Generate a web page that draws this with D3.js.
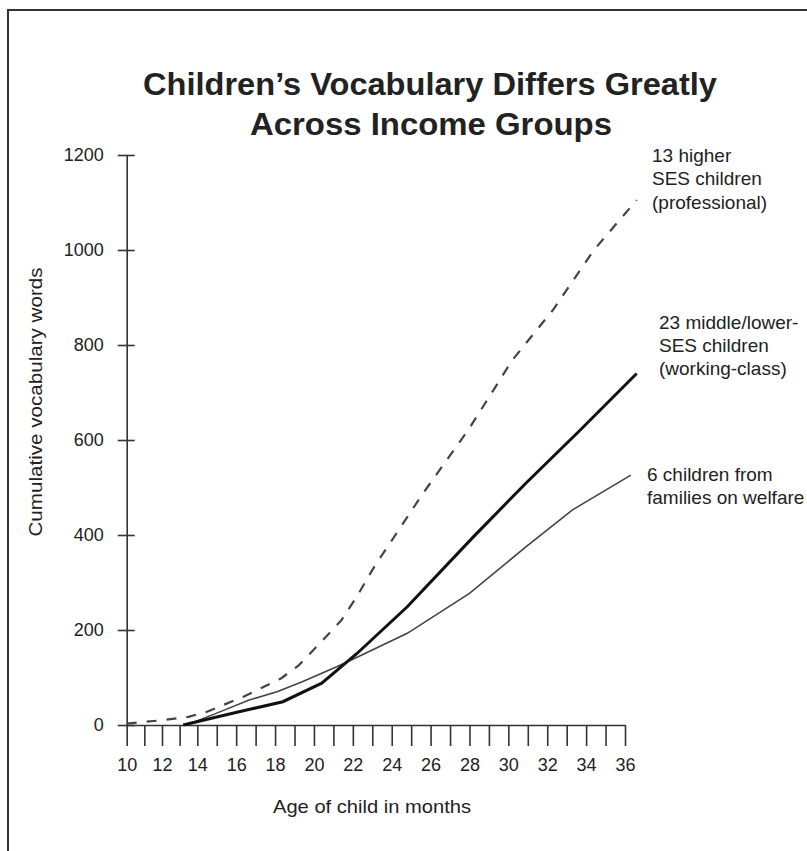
<!DOCTYPE html>
<html>
<head>
<meta charset="utf-8">
<script src="https://cdn.jsdelivr.net/npm/d3@7"></script>
<style>
  html, body { margin: 0; padding: 0; background: #fff; }
  svg { display: block; }
  text { font-family: "Liberation Sans", Arial, Helvetica, sans-serif; fill: #222; }
</style>
</head>
<body>
<svg id="chart" width="807" height="851"></svg>
<script>
// ---- data ----
const titleLines = ["Children\u2019s Vocabulary Differs Greatly", "Across Income Groups"];
const yLabel = "Cumulative vocabulary words";
const xLabel = "Age of child in months";

const xTickValues = d3.range(10, 37, 1);          // a tick every month
const xTickLabels = [10, 12, 14, 16, 18, 20, 22, 24, 26, 28, 30, 32, 34, 36];
const yTickValues = [0, 200, 400, 600, 800, 1000, 1200];

const professionalMonths = [10, 12, 13.5, 14.5, 16.4, 18.3, 19.2, 20.3, 21.4, 22.2, 23.1, 25.6, 28, 30.2, 32.3, 34.4, 36.6];
const professionalWords  = [3, 10, 17, 28, 60, 98, 125, 172, 220, 270, 333, 487, 625, 768, 874, 1000, 1105];

const workingMonths = [13.2, 15, 16.7, 18.4, 20.4, 22.2, 24.8, 28.2, 30.9, 33.7, 36.6];
const workingWords  = [0, 17, 33, 49, 88, 150, 249, 396, 509, 621, 740];

const welfareMonths = [13.4, 15, 16.7, 18.1, 19.4, 21.2, 22.3, 24.8, 28, 30.9, 33.3, 36.3];
const welfareWords  = [0, 25, 53, 70, 91, 123, 144, 193, 277, 375, 453, 526];

const professionalLabel = ["13 higher", "SES children", "(professional)"];
const workingLabel = ["23 middle/lower-", "SES children", "(working-class)"];
const welfareLabel = ["6 children from", "families on welfare"];

// ---- drawing ----
const svg = d3.select("#chart");

// frame (scanned page border)
svg.append("path")
  .attr("d", "M8,851 L8,10 L807,10")
  .attr("fill", "none").attr("stroke", "#333").attr("stroke-width", 2);

// title
svg.append("text")
  .attr("x", 430).attr("y", 95)
  .attr("text-anchor", "middle")
  .attr("font-size", 31).attr("font-weight", "bold")
  .attr("textLength", 574).attr("lengthAdjust", "spacingAndGlyphs")
  .text(titleLines[0]);
svg.append("text")
  .attr("x", 431).attr("y", 135)
  .attr("text-anchor", "middle")
  .attr("font-size", 31).attr("font-weight", "bold")
  .attr("textLength", 362).attr("lengthAdjust", "spacingAndGlyphs")
  .text(titleLines[1]);

const x = d3.scaleLinear().domain([10, 14, 36]).range([126.7, 197.3, 625]);
const y = d3.scaleLinear().domain([0, 1200]).range([725, 155]);

// y axis
const yAxis = svg.append("g")
  .attr("transform", `translate(${x(10)},0)`)
  .call(d3.axisLeft(y).tickValues(yTickValues).tickFormat(d3.format("d"))
    .tickSize(9).tickSizeOuter(0).tickPadding(14));
yAxis.select(".domain").attr("stroke", "#333").attr("stroke-width", 1.6);
yAxis.selectAll(".tick line").attr("x1", 8).attr("stroke", "#333").attr("stroke-width", 1.6);
yAxis.selectAll(".tick text").attr("font-size", 18).attr("fill", "#222")
  .style("font-family", "'Liberation Sans', Arial, sans-serif");

// x axis
const xAxis = svg.append("g")
  .attr("transform", `translate(0,${y(0)})`)
  .call(d3.axisBottom(x).tickValues(xTickValues).tickSize(21).tickSizeOuter(0).tickPadding(12)
    .tickFormat(d => xTickLabels.includes(d) ? d : ""));
xAxis.select(".domain").attr("stroke", "#333").attr("stroke-width", 1.6);
xAxis.selectAll(".tick line").attr("stroke", "#333").attr("stroke-width", 1.6);
xAxis.selectAll(".tick text").attr("font-size", 18).attr("fill", "#222")
  .style("font-family", "'Liberation Sans', Arial, sans-serif");

// axis titles
svg.append("text")
  .attr("transform", `translate(35,402) rotate(-90)`)
  .attr("text-anchor", "middle").attr("dominant-baseline", "central")
  .attr("font-size", 19)
  .attr("textLength", 269).attr("lengthAdjust", "spacingAndGlyphs")
  .text(yLabel);
svg.append("text")
  .attr("x", 372).attr("y", 806)
  .attr("text-anchor", "middle").attr("dominant-baseline", "central")
  .attr("font-size", 19)
  .attr("textLength", 198).attr("lengthAdjust", "spacingAndGlyphs")
  .text(xLabel);

// lines
const line = d3.line().x(d => x(d[0])).y(d => y(d[1]));
const zip = (a, b) => a.map((v, i) => [v, b[i]]);

svg.append("path")
  .datum(zip(professionalMonths, professionalWords))
  .attr("d", line).attr("fill", "none")
  .attr("stroke", "#444").attr("stroke-width", 2.2)
  .attr("stroke-dasharray", "10,10");

svg.append("path")
  .datum(zip(welfareMonths, welfareWords))
  .attr("d", line).attr("fill", "none")
  .attr("stroke", "#444").attr("stroke-width", 1.6);

svg.append("path")
  .datum(zip(workingMonths, workingWords))
  .attr("d", line).attr("fill", "none")
  .attr("stroke", "#111").attr("stroke-width", 3);

// series annotations
function annotate(lines, x0, yCenters) {
  lines.forEach((t, i) => {
    svg.append("text")
      .attr("x", x0).attr("y", yCenters[i])
      .attr("dominant-baseline", "central")
      .attr("font-size", 19)
      .text(t);
  });
}
annotate(professionalLabel, 652, [155, 178.5, 202]);
annotate(workingLabel, 659, [322, 345, 368]);
annotate(welfareLabel, 647, [474, 497]);
</script>
</body>
</html>
